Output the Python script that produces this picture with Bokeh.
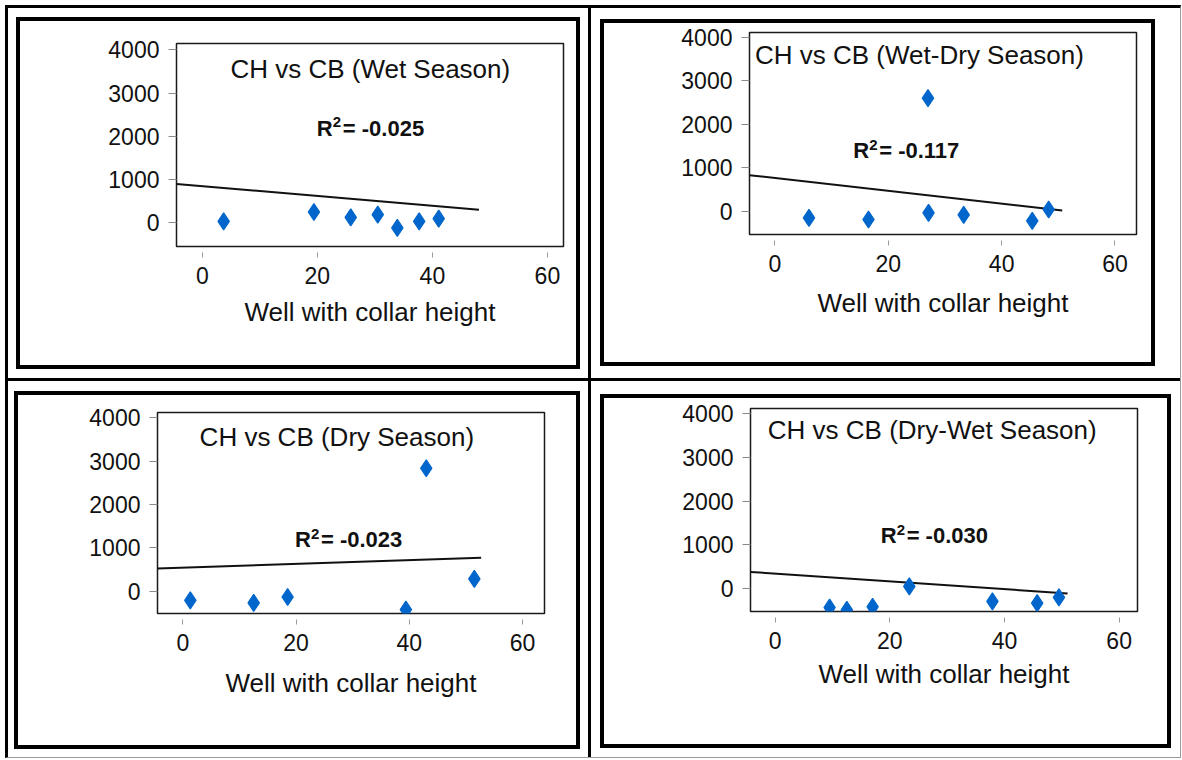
import numpy as np
from bokeh.plotting import figure
from bokeh.layouts import column, row
from bokeh.models import Label, FixedTicker, Range1d
from bokeh.embed import file_html
from bokeh.resources import INLINE

FONT = "Liberation Sans"
MARKER_BLUE = "#0066CC"
INK = "#111111"

# ---- data -------------------------------------------------------------
titles = [
    "CH vs CB (Wet Season)",
    "CH vs CB (Wet-Dry Season)",
    "CH vs CB (Dry Season)",
    "CH vs CB (Dry-Wet Season)",
]
r2_values = ["-0.025", "-0.117", "-0.023", "-0.030"]
x_label = "Well with collar height"
x_ticks = [0, 20, 40, 60]
y_ticks = [0, 1000, 2000, 3000, 4000]

# collar height (x) against CB (y), one pair per season
wet_x = [3.7, 19.4, 25.8, 30.5, 33.9, 37.7, 41.1]
wet_y = [37, 252, 128, 190, -115, 37, 99]
wetdry_x = [6.0, 16.5, 27.0, 27.1, 33.3, 45.4, 48.3]
wetdry_y = [-146, -184, 2605, -30, -77, -215, 46]
dry_x = [1.3, 12.5, 18.5, 39.4, 43.0, 51.5]
dry_y = [-215, -275, -137, -428, 2837, 281]
drywet_x = [9.5, 12.5, 17.0, 23.4, 37.9, 45.7, 49.5]
drywet_y = [-430, -483, -414, 53, -292, -331, -200]

# linear trend lines: intercept, slope and where each line stops
trend_intercept = [850, 768, 543, 345]
trend_slope = [-11.3, -14.7, 4.29, -8.88]
trend_x_end = [48.1, 50.7, 52.7, 51.0]

# axis extents of each panel
x_extents = [(-4.5, 62.8), (-4.5, 63.8), (-4.5, 63.9), (-4.3, 63.2)]
y_extents = [(-545, 4145), (-529, 4115), (-519, 4126), (-522, 4122)]

# annotation anchors (data space): title centre / R² left edge
title_pos = [(29.2, 3552), (25.5, 3595), (27.2, 3570), (27.4, 3632)]
r2_pos = [(19.9, 2191), (13.8, 1402), (19.8, 1181), (18.4, 1209)]

series_x = [wet_x, wetdry_x, dry_x, drywet_x]
series_y = [wet_y, wetdry_y, dry_y, drywet_y]

# ---- page geometry ----------------------------------------------------
FIG_W, FIG_H = 472, 296
BORDER = dict(min_border_left=80, min_border_right=5,
              min_border_top=8, min_border_bottom=85)

# padding of each panel cell (around the heavy box) and of each heavy box
# (around its figure), as "top right bottom left"
cell_pad = ["9px 8px 9px 8px", "11px 25px 12px 9px",
            "10px 8px 8px 6px", "13px 9px 9px 9px"]
box_pad = ["14px 8px 34px 76px", "1px 10px 42px 65px",
           "9px 27px 45px 59px", "2px 25px 48px 66px"]
label_standoff = [10, 13, 14, 7]
RULE = "3px solid black"
FAINT = "1px solid #9a9a9a"


def make_panel(i):
    p = figure(width=FIG_W, height=FIG_H,
               x_range=Range1d(*x_extents[i]), y_range=Range1d(*y_extents[i]),
               output_backend="svg", toolbar_location=None, tools="", **BORDER)
    p.background_fill_color = "white"
    p.border_fill_color = "white"
    p.outline_line_color = "#1a1a1a"
    p.outline_line_width = 1.5
    p.grid.visible = False

    xa = p.xaxis[0]
    xa.ticker = FixedTicker(ticks=x_ticks, minor_ticks=[])
    xa.axis_line_color = None
    xa.major_tick_in = -6
    xa.major_tick_out = 11
    xa.major_tick_line_color = "#9a9a9a"
    xa.minor_tick_line_color = None
    xa.major_label_standoff = 9
    xa.major_label_text_font = FONT
    xa.major_label_text_font_size = "23px"
    xa.major_label_text_color = INK
    xa.axis_label = x_label
    xa.axis_label_text_font = FONT
    xa.axis_label_text_font_size = "26px"
    xa.axis_label_text_font_style = "normal"
    xa.axis_label_text_color = INK
    xa.axis_label_standoff = label_standoff[i]

    ya = p.yaxis[0]
    ya.ticker = FixedTicker(ticks=y_ticks, minor_ticks=[])
    ya.axis_line_color = None
    ya.major_tick_in = 0
    ya.major_tick_out = 8
    ya.major_tick_line_color = "#8a8a8a"
    ya.minor_tick_line_color = None
    ya.major_label_standoff = 9
    ya.major_label_text_font = FONT
    ya.major_label_text_font_size = "23px"
    ya.major_label_text_color = INK

    # trend line from its fitted parameters
    tx = np.array([x_extents[i][0], trend_x_end[i]])
    ty = trend_intercept[i] + trend_slope[i] * tx
    p.line(tx, ty, line_color="#111111", line_width=2)

    p.scatter(series_x[i], series_y[i], marker="diamond", size=17,
              fill_color=MARKER_BLUE, line_color=MARKER_BLUE, line_width=1.2)

    tx0, ty0 = title_pos[i]
    p.add_layout(Label(x=tx0, y=ty0, text=titles[i], text_font=FONT,
                       text_font_size="26px", text_color=INK,
                       text_align="center", text_baseline="alphabetic"))

    rx, ry = r2_pos[i]
    common = dict(x=rx, y=ry, text_font=FONT, text_font_style="bold",
                  text_color=INK, text_align="left", text_baseline="alphabetic")
    p.add_layout(Label(text="R", text_font_size="22px", **common))
    p.add_layout(Label(text="2", text_font_size="15px", x_offset=16,
                       y_offset=6, **common))
    p.add_layout(Label(text="= " + r2_values[i], text_font_size="22px",
                       x_offset=26, **common))

    # heavy frame round the chart
    box = column(p, styles={"border": "4px solid black", "padding": box_pad[i]})
    cell_styles = {"padding": cell_pad[i]}
    if i in (0, 2):
        cell_styles["border-right"] = RULE
    return column(box, styles=cell_styles)


cells = [make_panel(i) for i in range(4)]
top = row(cells[0], cells[1], styles={"border-bottom": RULE})
bottom = row(cells[2], cells[3])
sheet = column(top, bottom, styles={"border-top": RULE, "border-left": RULE,
                                    "border-right": FAINT,
                                    "border-bottom": FAINT})
page = column(sheet, styles={"padding": "5px 0 0 5px"})

with open("out.html", "w") as f:
    f.write(file_html(page, INLINE))
